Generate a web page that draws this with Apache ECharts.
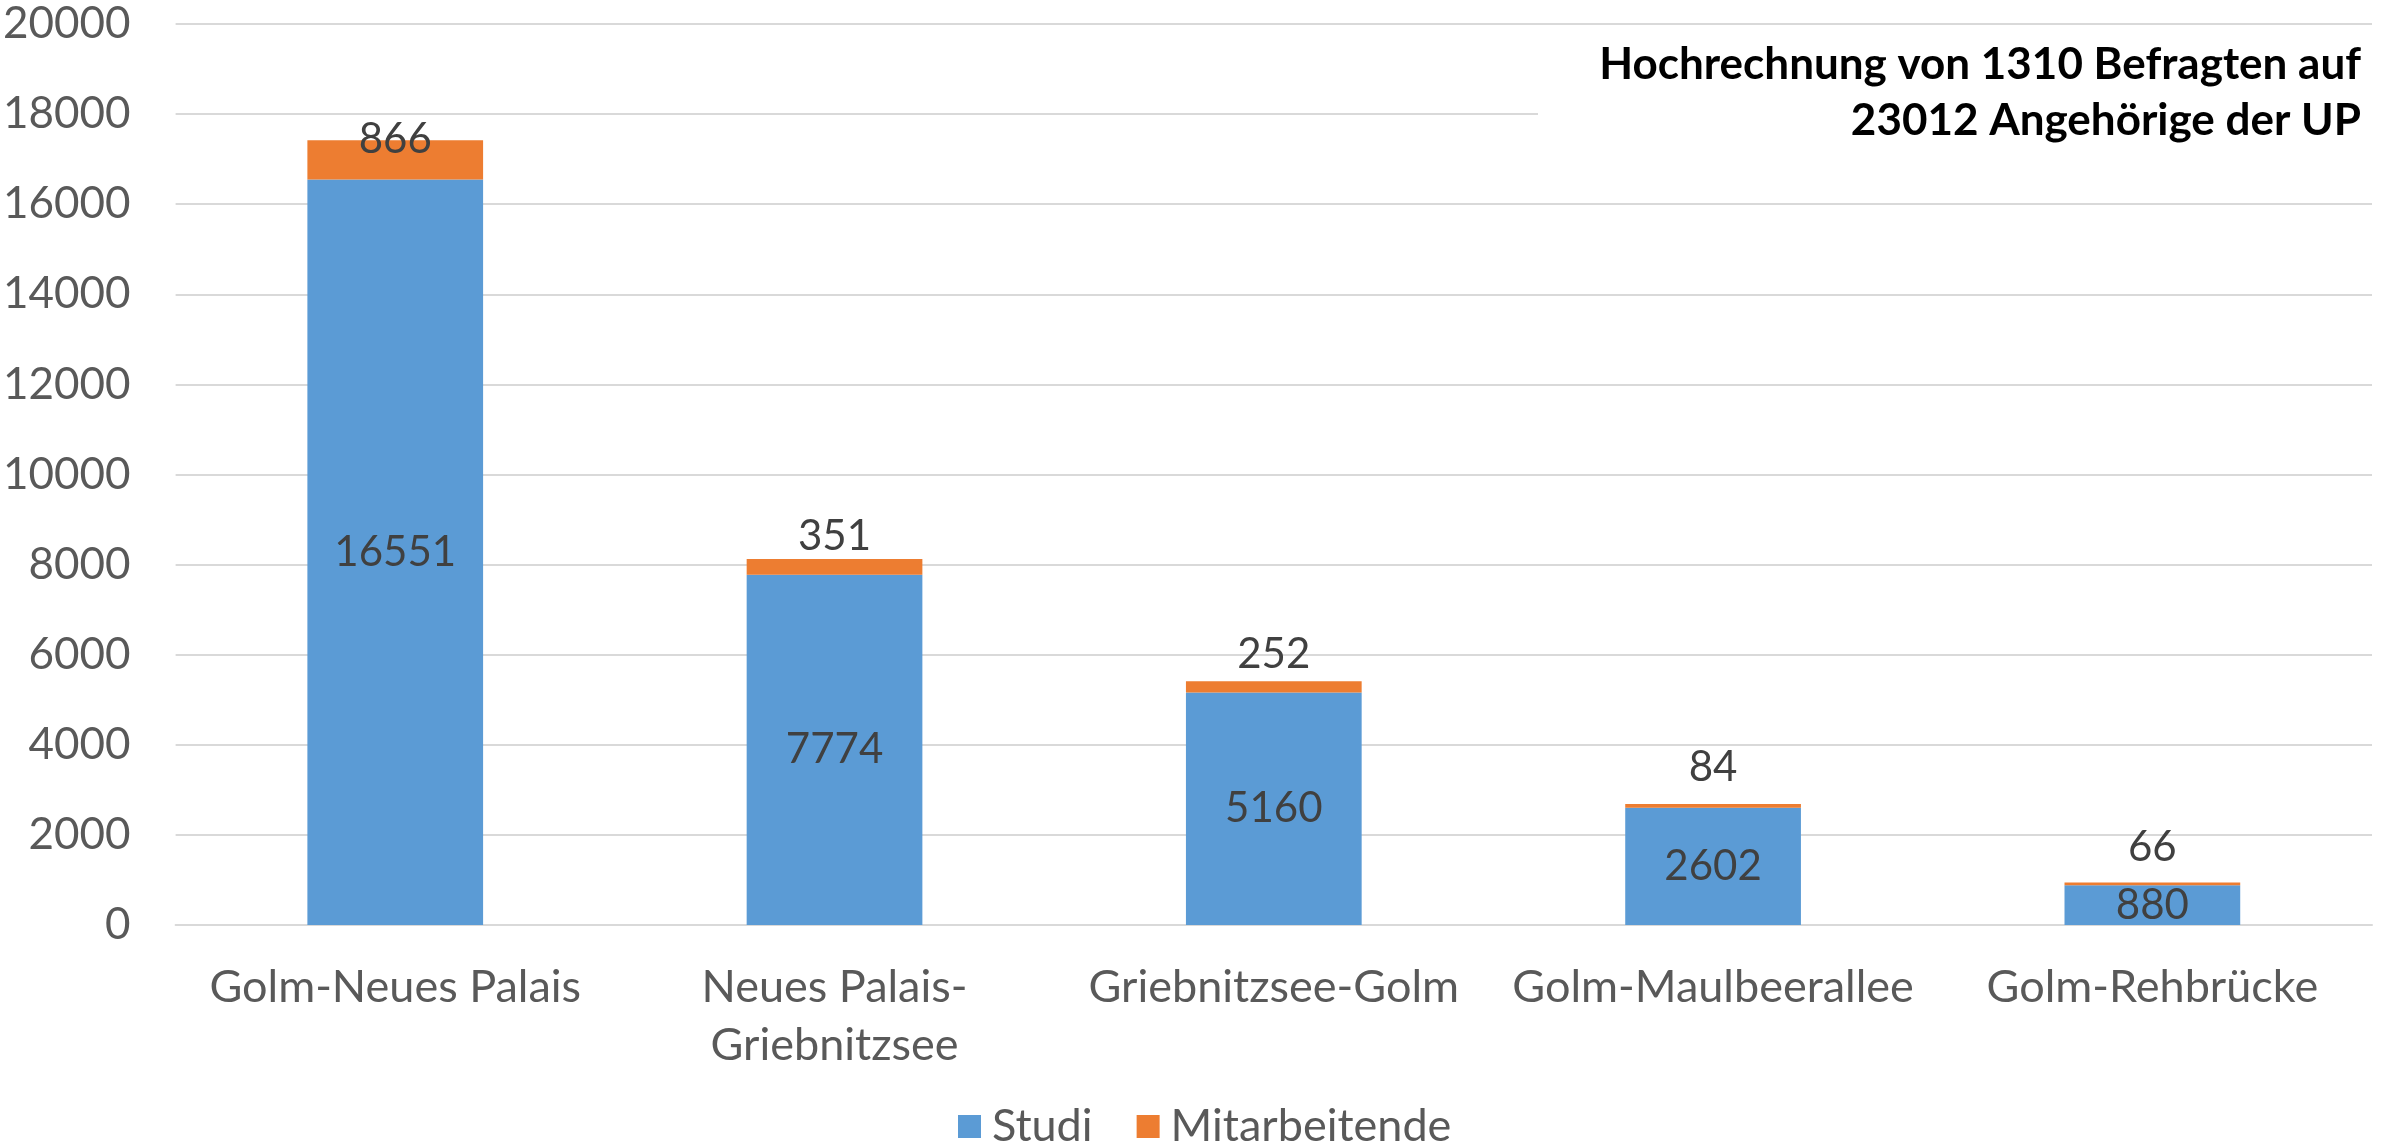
<!DOCTYPE html>
<html>
<head>
<meta charset="utf-8">
<script src="https://cdn.jsdelivr.net/npm/echarts@6/dist/echarts.min.js"></script>
<style>
  html, body { margin: 0; padding: 0; background: #fff; }
  #chart { width: 2392px; height: 1146px; }
</style>
</head>
<body>
<div id="chart"></div>
<script>
// chart data
var categories = ['Golm-Neues Palais', 'Neues Palais-Griebnitzsee', 'Griebnitzsee-Golm', 'Golm-Maulbeerallee', 'Golm-Rehbrücke'];
var studi = [16551, 7774, 5160, 2602, 880];
var mitarbeitende = [866, 351, 252, 84, 66];
var yTicks = [0, 2000, 4000, 6000, 8000, 10000, 12000, 14000, 16000, 18000, 20000];
var noteLines = ['Hochrechnung von 1310 Befragten auf', '23012 Angehörige der UP'];

var FONT = 'Lato';

function initChart() {
    var chartDom = document.getElementById('chart');
    var myChart = echarts.init(chartDom);

    // label lift above the orange segment (first one sits on the edge)
    var lift = [-22, 0, 4, 14, 12];

    var option = {
        animation: false,
        textStyle: { fontFamily: FONT },
        grid: {
            left: 175,
            right: 20,
            top: 24,
            bottom: 221,
            containLabel: false
        },
        legend: {
            data: ['Studi', 'Mitarbeitende'],
            left: 953,
            top: 1099,
            icon: 'rect',
            itemWidth: 23,
            itemHeight: 23,
            itemGap: 44,
            textStyle: { fontSize: 45, color: '#595959', fontFamily: FONT, padding: [0, 0, 0, 6] }
        },
        xAxis: {
            type: 'category',
            data: categories,
            axisLine: { lineStyle: { color: '#d9d9d9', width: 2 } },
            axisTick: { show: false },
            axisLabel: {
                fontSize: 45,
                color: '#595959',
                fontFamily: FONT,
                margin: 33,
                lineHeight: 58,
                interval: 0,
                // long names wrap after the hyphen, like the original
                formatter: function (v) {
                    return v.length > 20 ? v.replace('-', '-\n') : v;
                }
            }
        },
        yAxis: {
            type: 'value',
            min: yTicks[0],
            max: yTicks[yTicks.length - 1],
            interval: yTicks[1] - yTicks[0],
            axisLine: { show: false },
            axisTick: { show: false },
            splitLine: { lineStyle: { color: '#d9d9d9', width: 2 } },
            axisLabel: {
                fontSize: 44,
                color: '#595959',
                fontFamily: FONT,
                margin: 45,
                formatter: function (v) { return String(v); }
            }
        },
        series: [
            {
                name: 'Studi',
                type: 'bar',
                stack: 'total',
                barWidth: '40%',
                data: studi,
                itemStyle: { color: '#5b9bd5' },
                label: {
                    show: true,
                    position: 'inside',
                    fontSize: 42,
                    color: '#404040',
                    fontFamily: FONT
                }
            },
            {
                name: 'Mitarbeitende',
                type: 'bar',
                stack: 'total',
                barWidth: '40%',
                data: mitarbeitende.map(function (v, i) {
                    return { value: v, label: { offset: [0, -lift[i]] } };
                }),
                itemStyle: { color: '#ed7d31' },
                label: {
                    show: true,
                    position: 'top',
                    distance: 2,
                    fontSize: 42,
                    color: '#404040',
                    fontFamily: FONT
                }
            }
        ],
        graphic: [
            {
                type: 'rect',
                z: 10,
                shape: { x: 1538, y: 32, width: 854, height: 150 },
                style: { fill: '#fff' }
            },
            {
                type: 'text',
                z: 11,
                right: 31,
                top: 43,
                style: {
                    text: noteLines[0],
                    font: 'bold 44px Lato',
                    fill: '#000'
                }
            },
            {
                type: 'text',
                z: 11,
                right: 31,
                top: 99,
                style: {
                    text: noteLines[1],
                    font: 'bold 44px Lato',
                    fill: '#000'
                }
            }
        ]
    };

    myChart.setOption(option);

    window.addEventListener('resize', function () {
        myChart.resize();
    });
}

document.addEventListener('DOMContentLoaded', function () {
    initChart();
});
</script>
</body>
</html>
